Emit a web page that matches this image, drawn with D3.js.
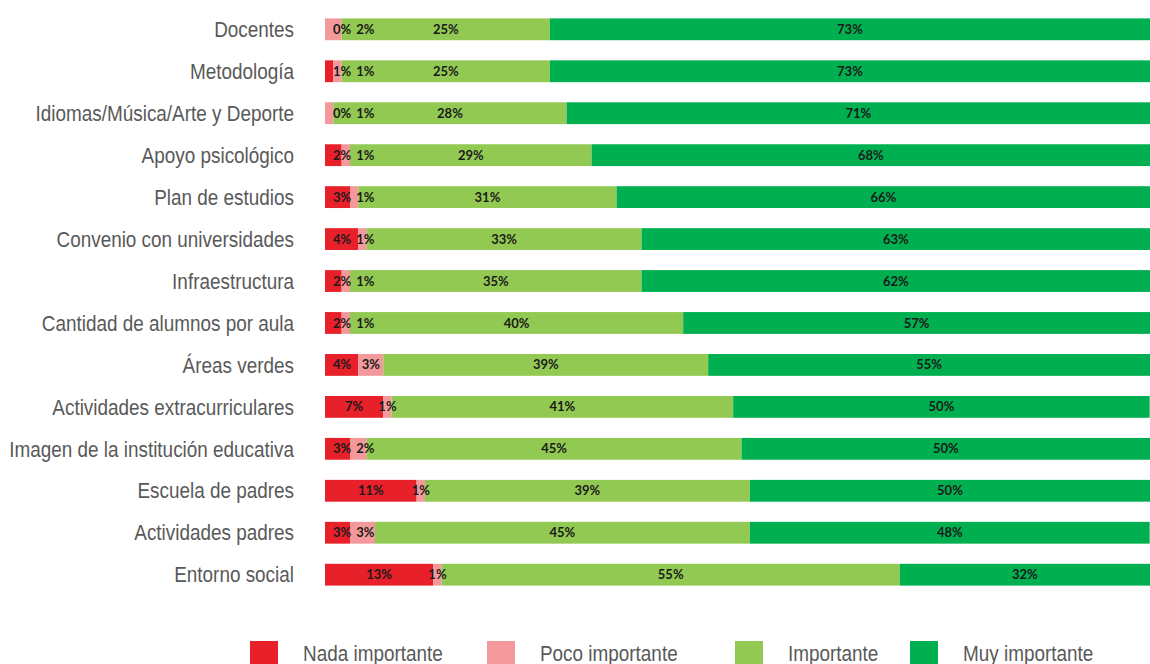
<!DOCTYPE html>
<html>
<head>
<meta charset="utf-8">
<script src="https://cdn.jsdelivr.net/npm/d3@7"></script>
<style>
  body { margin: 0; background: #fff; }
  .cat { font-family: "Liberation Sans", Arial, sans-serif; fill: #595959; font-size: 22px; }
  .val { font-family: Lato, "Open Sans", sans-serif; font-weight: 700; font-size: 13px; fill: #1a1a1a; }
  .leg { font-family: "Liberation Sans", Arial, sans-serif; fill: #595959; font-size: 22px; }
</style>
</head>
<body>
<script>
var width = 1150,
    height = 664;

// categorias (de arriba a abajo)
var categorias = [
    "Docentes", "Metodología", "Idiomas/Música/Arte y Deporte", "Apoyo psicológico",
    "Plan de estudios", "Convenio con universidades", "Infraestructura",
    "Cantidad de alumnos por aula", "Áreas verdes", "Actividades extracurriculares",
    "Imagen de la institución educativa", "Escuela de padres", "Actividades padres",
    "Entorno social"
];

var series = ["Nada importante", "Poco importante", "Importante", "Muy importante"];

// porcentajes por serie
var nada      = [0, 1, 0, 2, 3, 4, 2, 2, 4, 7, 3, 11, 3, 13];
var poco      = [2, 1, 1, 1, 1, 1, 1, 1, 3, 1, 2, 1, 3, 1];
var importante = [25, 25, 28, 29, 31, 33, 35, 40, 39, 41, 45, 39, 45, 55];
var muy       = [73, 73, 71, 68, 66, 63, 62, 57, 55, 50, 50, 50, 48, 32];

var colores = ["#e8202a", "#f4999b", "#92c952", "#00b050"];

var narrow = 0.86; // texto condensado

var rows = categorias.map(function (c, i) {
    return { cat: c, v: [nada[i], poco[i], importante[i], muy[i]] };
});

var svg = d3.select("body")
    .append("svg")
    .attr("width", width)
    .attr("height", height);

var x = d3.scaleLinear()
    .domain([0, 100])
    .range([325, 1158]);

var y = d3.scaleBand()
    .domain(categorias)
    .range([10, 594])
    .paddingInner(0.48)
    .paddingOuter(0.2);

var color = d3.scaleOrdinal().domain(series).range(colores);

var stack = d3.stack()
    .keys([0, 1, 2, 3])
    .value(function (d, k) { return d.v[k]; });

var layers = stack(rows);

// barras
svg.append("g")
    .selectAll("g")
    .data(layers)
    .enter().append("g")
    .attr("fill", function (d) { return colores[d.key]; })
    .selectAll("rect")
    .data(function (d) { return d; })
    .enter().append("rect")
    .attr("x", function (d) { return x(d[0]); })
    .attr("y", function (d) { return y(d.data.cat); })
    .attr("width", function (d) { return Math.max(0, x(d[1]) - x(d[0])); })
    .attr("height", y.bandwidth());

// etiquetas de categoria
svg.append("g")
    .selectAll("text")
    .data(categorias)
    .enter().append("text")
    .attr("class", "cat")
    .attr("transform", function (d) {
        return "translate(294," + (y(d) + y.bandwidth() / 2) + ") scale(" + narrow + ",1)";
    })
    .attr("dy", "0.35em")
    .attr("text-anchor", "end")
    .text(function (d) { return d; });

// etiquetas de valores, empujadas a la derecha si se solapan
var labelG = svg.append("g");
rows.forEach(function (r, i) {
    var prevRight = x(0) + 3;
    layers.forEach(function (layer) {
        var seg = layer[i];
        var t = labelG.append("text")
            .attr("class", "val")
            .attr("y", y(r.cat) + y.bandwidth() / 2)
            .attr("dy", "0.35em")
            .attr("text-anchor", "middle")
            .text(r.v[layer.key] + "%");
        var w = t.node().getComputedTextLength();
        var cx = (x(seg[0]) + Math.min(x(seg[1]), width)) / 2;
        cx = Math.max(cx, prevRight + w / 2 + 5);
        t.attr("x", cx);
        prevRight = cx + w / 2;
    });
});

// leyenda
var legX = [250, 487, 735, 910];
var legend = svg.append("g")
    .selectAll("g")
    .data(series)
    .enter().append("g")
    .attr("transform", function (d, i) { return "translate(" + legX[i] + ",641)"; });

legend.append("rect")
    .attr("width", 28)
    .attr("height", 24)
    .attr("fill", function (d) { return color(d); });

legend.append("text")
    .attr("class", "leg")
    .attr("transform", "translate(53,12) scale(" + narrow + ",1)")
    .attr("dy", "0.35em")
    .text(function (d) { return d; });
</script>
</body>
</html>
